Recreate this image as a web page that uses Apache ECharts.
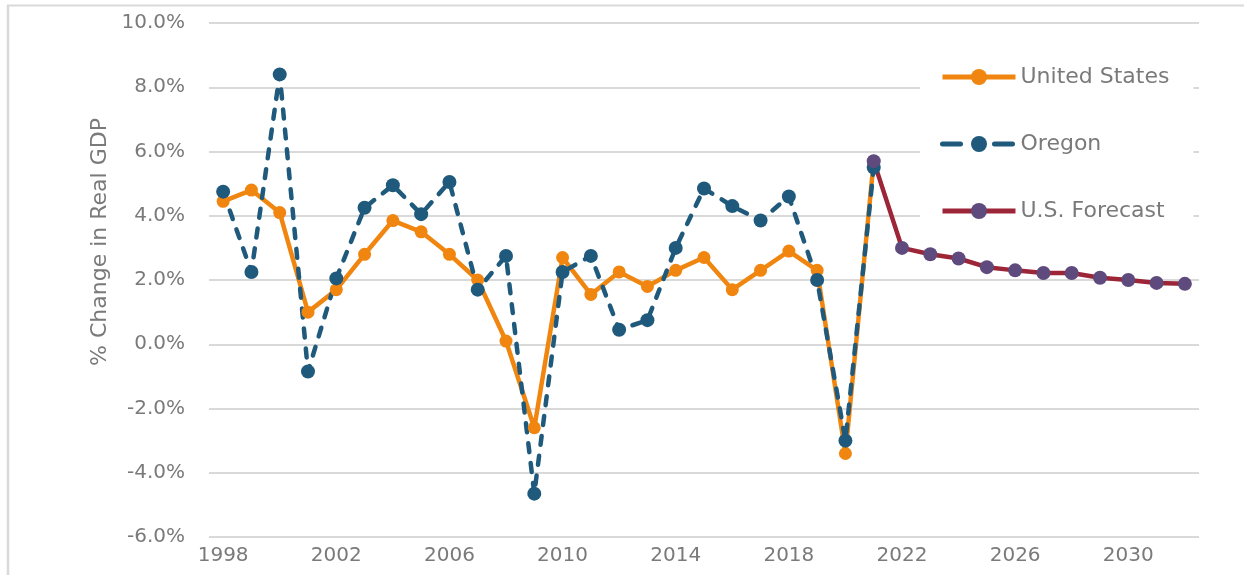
<!DOCTYPE html>
<html>
<head>
<meta charset="utf-8">
<title>Real GDP growth</title>
<script src="https://cdn.jsdelivr.net/npm/echarts@6/dist/echarts.min.js"></script>
<style>
  html, body { margin: 0; padding: 0; background: #fff; }
  #chart { width: 1244px; height: 575px; }
</style>
</head>
<body>
<div id="chart"></div>
<script>
// years on the axis, 1998 - 2032
var years = [];
for (var y = 1998; y <= 2032; y++) years.push(String(y));

// actual growth, 1998 - 2021
var usActual = [4.45, 4.8, 4.1, 1.0, 1.7, 2.8, 3.85, 3.5, 2.8, 2.0, 0.1, -2.6,
                2.7, 1.55, 2.25, 1.8, 2.3, 2.7, 1.7, 2.3, 2.9, 2.3, -3.4, 5.7];
var oregon = [4.75, 2.25, 8.4, -0.85, 2.05, 4.25, 4.95, 4.05, 5.05, 1.7, 2.75, -4.65,
              2.25, 2.75, 0.45, 0.75, 3.0, 4.85, 4.3, 3.85, 4.6, 2.0, -3.0, 5.5];
// forecast, 2021 - 2032
var usForecast = [5.7, 3.0, 2.8, 2.67, 2.4, 2.3, 2.22, 2.22, 2.07, 2.0, 1.91, 1.88];

var legendNames = ['United States', 'Oregon', 'U.S. Forecast'];
var yTicks = { min: -6, max: 10, step: 2 };

var font = 'DejaVu Sans';
var grey = '#7a7a7a';

function pad(arr, before) {
    var out = [];
    for (var i = 0; i < before; i++) out.push('-');
    return out.concat(arr);
}

var chart = echarts.init(document.getElementById('chart'));

var option = {
    animation: false,
    backgroundColor: '#fff',
    grid: { left: 209, right: 45, top: 23, bottom: 38 },
    graphic: [
        { type: 'line', shape: { x1: 7, y1: 5.5, x2: 1244, y2: 5.5 }, style: { stroke: '#d9d9d9', lineWidth: 2 } },
        { type: 'line', shape: { x1: 8, y1: 5, x2: 8, y2: 575 }, style: { stroke: '#d9d9d9', lineWidth: 2.5 } },
        {
            type: 'text', x: 100, y: 242, rotation: Math.PI / 2,
            style: {
                text: '% Change in Real GDP', fill: grey, font: '22px "' + font + '"',
                align: 'center', verticalAlign: 'middle'
            }
        }
    ],
    legend: {
        data: [
            { name: legendNames[0] },
            { name: legendNames[1], lineStyle: { type: [18, 34], cap: 'round' } },
            { name: legendNames[2] }
        ],
        orient: 'vertical',
        left: 920,
        top: 46,
        padding: [20, 24, 20, 20],
        backgroundColor: '#fff',
        itemWidth: 73,
        itemHeight: 20,
        itemGap: 45,
        lineStyle: { width: 5 },
        textStyle: { color: grey, fontSize: 22, fontFamily: font, lineHeight: 22 }
    },
    xAxis: {
        type: 'category',
        data: years,
        boundaryGap: true,
        axisLine: { show: false },
        axisTick: { show: false },
        axisLabel: { interval: 3, color: grey, fontSize: 20, fontFamily: font, margin: 9 }
    },
    yAxis: {
        type: 'value',
        min: yTicks.min,
        max: yTicks.max,
        interval: yTicks.step,
        axisLine: { show: false },
        axisTick: { show: false },
        axisLabel: {
            color: grey, fontSize: 20, fontFamily: font, margin: 24,
            formatter: function (v) { return v.toFixed(1) + '%'; }
        },
        splitLine: { lineStyle: { color: '#d9d9d9', width: 2 } }
    },
    series: [
        {
            name: legendNames[0],
            type: 'line',
            data: usActual,
            symbol: 'circle',
            symbolSize: 13,
            itemStyle: { color: '#f0860f' },
            lineStyle: { color: '#f0860f', width: 4.5 }
        },
        {
            name: legendNames[1],
            type: 'line',
            data: oregon,
            symbol: 'circle',
            symbolSize: 14,
            itemStyle: { color: '#1f5a7c' },
            lineStyle: { color: '#1f5a7c', width: 4.5, type: [9, 11], cap: 'round' }
        },
        {
            name: legendNames[2],
            type: 'line',
            data: pad(usForecast, usActual.length - 1),
            symbol: 'circle',
            symbolSize: 14,
            itemStyle: { color: '#5e4a7c' },
            lineStyle: { color: '#9c2638', width: 4.5 }
        }
    ]
};

chart.setOption(option);
</script>
</body>
</html>
